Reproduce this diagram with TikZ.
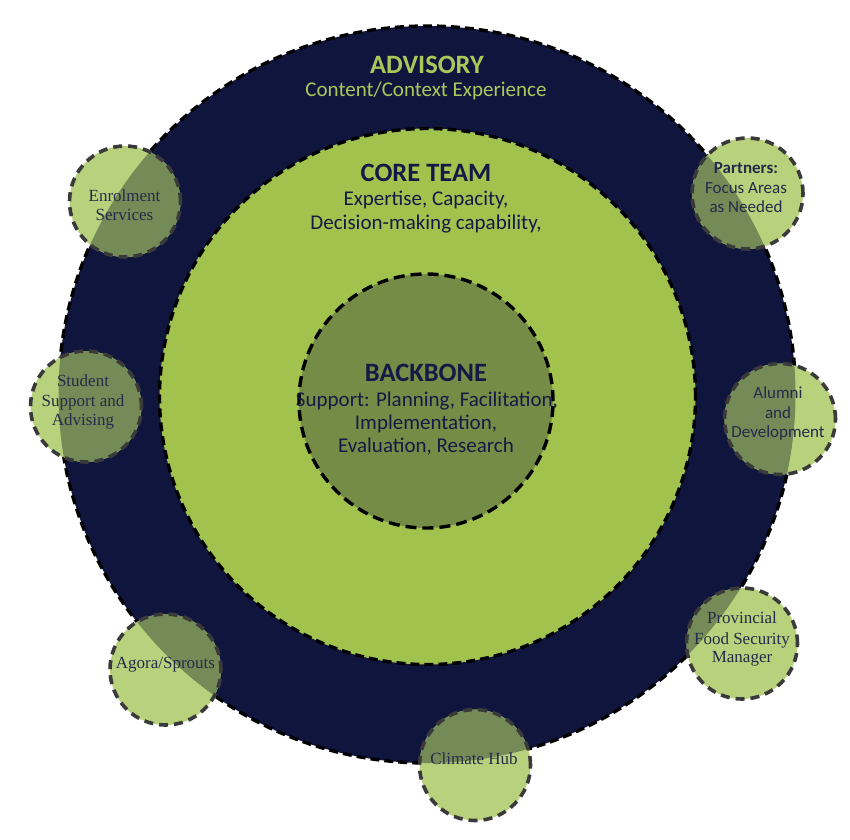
\documentclass[tikz,border=0pt]{standalone}
\usepackage{fontspec}
\setmainfont{Liberation Serif}
\newfontfamily\sansfnt{Carlito}
\definecolor{navy}{HTML}{10153E}
\definecolor{coregreen}{HTML}{A1C24D}
\definecolor{olive}{HTML}{758C46}
\definecolor{lightg}{HTML}{B7D17C}
\definecolor{darkg}{HTML}{748B57}
\definecolor{advgreen}{HTML}{A8C95A}
\definecolor{txtnavy}{HTML}{141A45}
\definecolor{smalltxt}{HTML}{232B4A}
\definecolor{dashgray}{HTML}{3A3A3A}
\begin{document}
\begin{tikzpicture}[x=1pt,y=-1pt,
  bigring/.style={circle, draw=black, line width=3.4pt, dash pattern=on 9pt off 5pt, inner sep=0pt},
  smallring/.style={circle, draw=dashgray, line width=3.6pt, dash pattern=on 9pt off 6pt,
    minimum size=111pt, inner sep=0pt, fill=lightg,
    path picture={\fill[darkg] (adv.center) circle[radius=368.5pt];}},
  head/.style={font=\sansfnt\bfseries\fontsize{26.5}{28}\selectfont, anchor=base, inner sep=0pt},
  body/.style={font=\sansfnt\fontsize{21}{23}\selectfont, anchor=base, inner sep=0pt},
  serlab/.style={font=\fontsize{17}{18}\selectfont, text=smalltxt, anchor=base, inner sep=0pt},
  sanslab/.style={font=\sansfnt\fontsize{17}{18}\selectfont, text=smalltxt, anchor=base, inner sep=0pt}
]
\useasboundingbox (0,0) rectangle (850,839);
% main circles
\node[bigring, fill=navy, minimum size=737pt] (adv) at (427,394.5) {};
\node[bigring, fill=coregreen, minimum size=536pt] (core) at (427.5,396.5) {};
\node[bigring, fill=olive, minimum size=254pt, dash pattern=on 11pt off 6pt] (back) at (426,401) {};
% small circles
\node[smallring] (enr) at (125,201.5) {};
\node[smallring] (par) at (747.5,193.5) {};
\node[smallring] (stu) at (86,406.5) {};
\node[smallring] (alu) at (780,419) {};
\node[smallring] (ago) at (165.5,669.5) {};
\node[smallring] (pro) at (742,643.5) {};
\node[smallring] (cli) at (475,765) {};
% main texts
\node[head, text=advgreen] (t1) at (427,73.3) {ADVISORY};
\node[body, text=advgreen] (t2) at (426,96.7) {Content/Context Experience};
\node[head, text=txtnavy] (t3) at (426,181.7) {CORE TEAM};
\node[body, text=txtnavy] (t4) at (426,205) {Expertise, Capacity,};
\node[body, text=txtnavy] (t5) at (426,229.5) {Decision-making capability,};
\node[head, text=txtnavy] (t6) at (426,381.7) {BACKBONE};
\node[body, text=txtnavy] (t7) at (427,406) {Support: Planning, Facilitation,};
\node[body, text=txtnavy] (t8) at (426,429) {Implementation,};
\node[body, text=txtnavy] (t9) at (426,452) {Evaluation, Research};
% small texts
\node[serlab] (e1) at (124.5,201.7) {Enrolment};
\node[serlab] (e2) at (124.5,220.7) {Services};
\node[sanslab, font=\sansfnt\bfseries\fontsize{17}{18}\selectfont] (p1) at (746,173.3) {Partners:};
\node[sanslab] (p2) at (746,193.3) {Focus Areas};
\node[sanslab] (p3) at (746,212.7) {as Needed};
\node[serlab] (s1) at (83,386) {Student};
\node[serlab] (s2) at (83,406) {Support and};
\node[serlab] (s3) at (83,425.7) {Advising};
\node[sanslab] (a1) at (778,398.3) {Alumni};
\node[sanslab] (a2) at (778,418.3) {and};
\node[sanslab] (a3) at (778,437.7) {Development};
\node[serlab] (g1) at (165.5,668) {Agora/Sprouts};
\node[serlab] (r1) at (742,623.3) {Provincial};
\node[serlab] (r2) at (742,644) {Food Security};
\node[serlab] (r3) at (742,662.7) {Manager};
\node[serlab] (c1) at (474,764.3) {Climate Hub};
\end{tikzpicture}
\end{document}
